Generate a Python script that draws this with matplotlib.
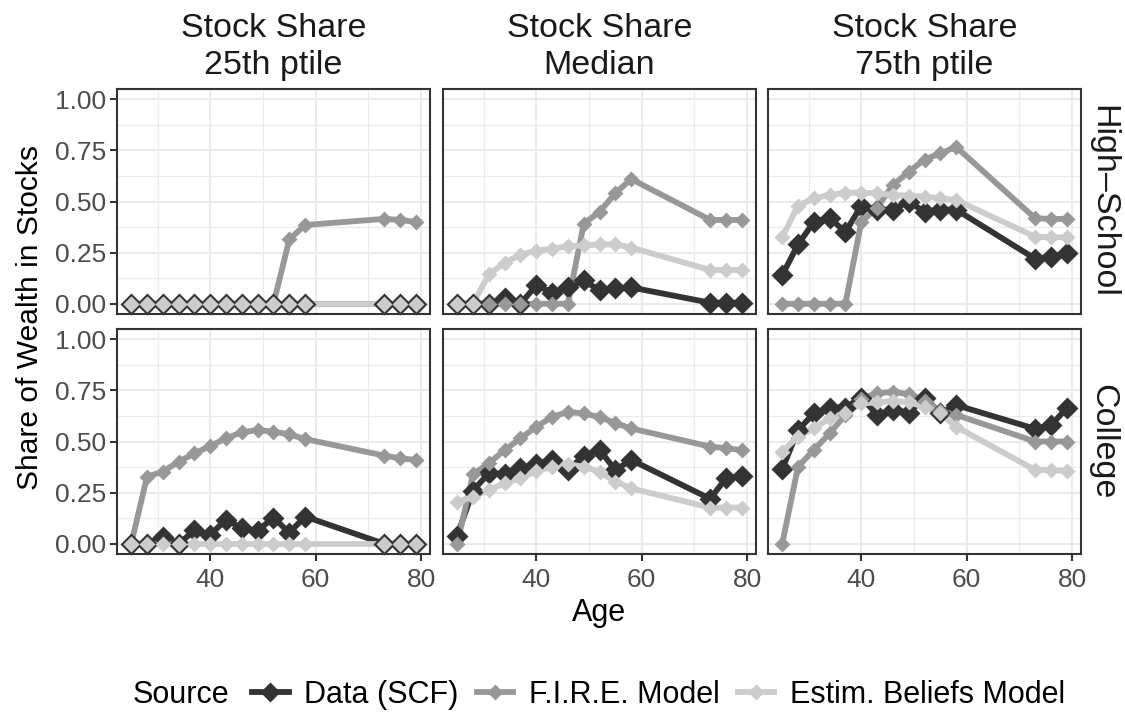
import matplotlib
matplotlib.use("Agg")
import matplotlib.pyplot as plt
from matplotlib.lines import Line2D
from matplotlib.ticker import FixedLocator

plt.rcParams['font.family'] = ['Liberation Sans', 'DejaVu Sans']

ages = [25, 28, 31, 34, 37, 40, 43, 46, 49, 52, 55, 58, 73, 76, 79]
sources = ["Data (SCF)", "F.I.R.E. Model", "Estim. Beliefs Model"]
col_labels = ["Stock Share\n25th ptile", "Stock Share\nMedian", "Stock Share\n75th ptile"]
row_labels = ["High\u2013School", "College"]
y_ticks = [0, 0.25, 0.5, 0.75, 1.0]
y_tick_labels = ["0.00", "0.25", "0.50", "0.75", "1.00"]
x_ticks = [40, 60, 80]

# High-School
scf_hs_p25 = [0, 0, 0, 0, 0, 0, 0, 0, 0, 0, 0, 0, 0, 0, 0]
fire_hs_p25 = [0, 0, 0, 0, 0, 0, 0, 0, 0, 0, 0.315, 0.385, 0.415, 0.41, 0.40]
est_hs_p25 = [0, 0, 0, 0, 0, 0, 0, 0, 0, 0, 0, 0, 0, 0, 0]

scf_hs_med = [0, 0, 0, 0.03, 0, 0.09, 0.055, 0.08, 0.115, 0.065, 0.075, 0.08, 0.005, 0.005, 0.005]
fire_hs_med = [0, 0, 0, 0, 0, 0, 0, 0, 0.39, 0.45, 0.54, 0.61, 0.41, 0.41, 0.41]
est_hs_med = [0, 0, 0.145, 0.20, 0.24, 0.26, 0.27, 0.28, 0.285, 0.29, 0.29, 0.275, 0.165, 0.165, 0.165]

scf_hs_p75 = [0.14, 0.29, 0.40, 0.42, 0.35, 0.48, 0.46, 0.46, 0.50, 0.45, 0.46, 0.46, 0.22, 0.23, 0.25]
fire_hs_p75 = [0, 0, 0, 0, 0, 0.40, 0.47, 0.58, 0.645, 0.705, 0.735, 0.767, 0.418, 0.415, 0.415]
est_hs_p75 = [0.325, 0.48, 0.515, 0.532, 0.543, 0.543, 0.54, 0.532, 0.528, 0.524, 0.515, 0.507, 0.328, 0.325, 0.325]

# College
scf_col_p25 = [0, 0, 0.035, 0, 0.065, 0.044, 0.118, 0.076, 0.064, 0.128, 0.054, 0.133, 0, 0, 0]
fire_col_p25 = [0, 0.328, 0.353, 0.401, 0.442, 0.478, 0.516, 0.545, 0.556, 0.548, 0.535, 0.512, 0.431, 0.418, 0.41]
est_col_p25 = [0, 0, 0, 0, 0, 0, 0, 0, 0, 0, 0, 0, 0, 0, 0]

scf_col_med = [0.04, 0.26, 0.345, 0.34, 0.37, 0.39, 0.41, 0.36, 0.43, 0.46, 0.36, 0.41, 0.22, 0.32, 0.33]
fire_col_med = [0, 0.34, 0.394, 0.458, 0.515, 0.572, 0.62, 0.645, 0.637, 0.62, 0.59, 0.564, 0.475, 0.467, 0.458]
est_col_med = [0.206, 0.23, 0.263, 0.296, 0.32, 0.356, 0.376, 0.39, 0.376, 0.353, 0.304, 0.271, 0.177, 0.177, 0.177]

scf_col_p75 = [0.365, 0.556, 0.637, 0.666, 0.666, 0.715, 0.632, 0.654, 0.641, 0.715, 0.638, 0.678, 0.562, 0.58, 0.662]
fire_col_p75 = [0, 0.377, 0.459, 0.54, 0.63, 0.71, 0.735, 0.743, 0.731, 0.70, 0.65, 0.63, 0.50, 0.50, 0.50]
est_col_p75 = [0.45, 0.524, 0.564, 0.613, 0.637, 0.686, 0.691, 0.698, 0.691, 0.67, 0.637, 0.572, 0.361, 0.361, 0.356]

panels = [
    [(scf_hs_p25, fire_hs_p25, est_hs_p25), (scf_hs_med, fire_hs_med, est_hs_med), (scf_hs_p75, fire_hs_p75, est_hs_p75)],
    [(scf_col_p25, fire_col_p25, est_col_p25), (scf_col_med, fire_col_med, est_col_med), (scf_col_p75, fire_col_p75, est_col_p75)],
]

colors = ["#333333", "#989898", "#CCCCCC"]
msizes = [11.2, 8.6, 8.6]
lw = 4.2

W, H = 1125, 712
fig = plt.figure(figsize=(W / 100, H / 100), dpi=100)

col_left = [117, 443, 768]
pw = 313
row_top = [89, 329]
ph = 225

grid_c = "#EBEBEB"
border_c = "#333333"
tick_c = "#4D4D4D"

for r in range(2):
    for c in range(3):
        ax = fig.add_axes([col_left[c] / W, 1 - (row_top[r] + ph) / H, pw / W, ph / H])
        ax.set_xlim(22.3, 81.7)
        ax.set_ylim(-0.05, 1.05)
        ax.xaxis.set_major_locator(FixedLocator(x_ticks))
        ax.xaxis.set_minor_locator(FixedLocator([30, 50, 70]))
        ax.yaxis.set_major_locator(FixedLocator(y_ticks))
        ax.yaxis.set_minor_locator(FixedLocator([0.125, 0.375, 0.625, 0.875]))
        ax.grid(which='major', color=grid_c, lw=1.5)
        ax.grid(which='minor', color=grid_c, lw=0.9)
        ax.set_axisbelow(True)
        for s in ax.spines.values():
            s.set_color(border_c)
            s.set_linewidth(1.5)
        ax.tick_params(which='minor', length=0)
        ax.tick_params(which='major', length=5, width=1.5, color=border_c,
                       labelsize=19, labelcolor=tick_c, pad=3)
        ax.tick_params(axis='x', pad=5)
        if r == 0:
            ax.tick_params(axis='x', which='major', length=0, labelbottom=False)
        if c != 0:
            ax.tick_params(axis='y', which='major', length=0, labelleft=False)
        else:
            ax.set_yticklabels(y_tick_labels)
        series = panels[r][c]
        for i, vals in enumerate(series):
            ax.plot(ages, vals, color=colors[i], lw=lw, zorder=2 + i * 0.01,
                    solid_capstyle='butt', solid_joinstyle='round')
        for i, vals in enumerate(series):
            ax.plot(ages, vals, linestyle='none', marker='D', ms=msizes[i],
                    color=colors[i], mec='none', zorder=3 + i * 0.01, clip_on=False)
        if r == 0:
            ax.text(0.5, 1.0 + 42 / ph, col_labels[c], transform=ax.transAxes,
                    ha='center', va='center', fontsize=24.5, color="#1A1A1A", linespacing=1.25)
        if c == 2:
            ax.text(1.0 + 22 / pw, 0.5, row_labels[r], transform=ax.transAxes,
                    ha='center', va='center', rotation=-90, fontsize=24.5, color="#1A1A1A")

fig.text(30 / W, 1 - 318 / H, "Share of Wealth in Stocks", rotation=90,
         ha='center', va='center', fontsize=21.6)
fig.text(599 / W, 1 - 613 / H, "Age", ha='center', va='center', fontsize=22)

# legend
fig.text(133 / W, 1 - 695 / H, "Source", ha='left', va='center', fontsize=22)
handles = [Line2D([0], [0], color=colors[i], lw=lw, marker='D', ms=msizes[i] * 0.9, mec='none')
           for i in range(3)]
fig.legend(handles, sources, loc='center left', bbox_to_anchor=(252 / W, 1 - 695 / H),
           ncol=3, frameon=False, fontsize=22, handlelength=1.2, handletextpad=0.5,
           columnspacing=0.6, borderaxespad=0, borderpad=0)

fig.savefig("out.png", dpi=100)
